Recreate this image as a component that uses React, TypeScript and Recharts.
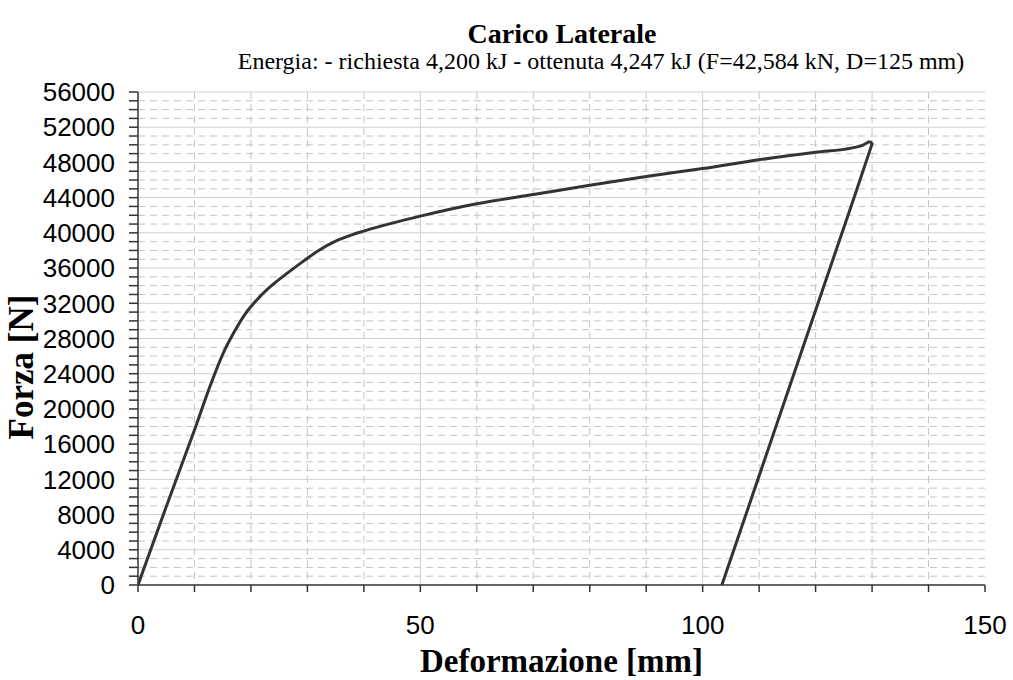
import React from 'react'
import {
  LineChart,
  Line,
  XAxis,
  YAxis,
  CartesianGrid,
} from 'recharts'

// deformazione [mm] / forza [N] - fase di carico
const loadX = [0, 5, 10, 13, 15, 17, 19, 21.5, 24, 26.5, 29, 32, 35, 38, 40, 45, 50, 60, 70, 80, 90, 100, 110, 120, 126.5, 128.3, 129.6]
const loadY = [0, 8900, 17600, 23000, 26200, 28700, 30800, 32700, 34200, 35450, 36650, 38000, 39050, 39800, 40200, 41100, 41900, 43300, 44350, 45400, 46400, 47300, 48300, 49150, 49650, 49950, 50400]

// scarico
const unloadX = [129.6, 130.0, 126.7, 103.4]
const unloadY = [50400, 50100, 43800, 0]

const xTicks = [0, 10, 20, 30, 40, 50, 60, 70, 80, 90, 100, 110, 120, 130, 140, 150]
const xLabels = [0, 50, 100, 150]
const xMajor = [50, 100]
const xMinor = [10, 20, 30, 40, 60, 70, 80, 90, 110, 120, 130, 140]

const yTicks: number[] = []
for (let v = 0; v <= 56000; v += 1000) yTicks.push(v)
const yMajor = yTicks.filter((v) => v % 4000 === 0 && v > 0)
const yMinor = yTicks.filter((v) => v % 4000 !== 0)

const title = 'Carico Laterale'
const subtitle = 'Energia: - richiesta 4,200 kJ - ottenuta 4,247 kJ (F=42,584 kN, D=125 mm)'
const xTitle = 'Deformazione [mm]'
const yTitle = 'Forza [N]'

const loadData = loadX.map((x, i) => ({ x, y: loadY[i] }))
const unloadData = unloadX.map((x, i) => ({ x, y: unloadY[i] }))

const serif = '"Liberation Serif", "Times New Roman", serif'
const sans = '"Liberation Sans", Arial, sans-serif'
const tickStyle = { fontSize: 26, fontFamily: sans, fill: '#000' }

const App = () => {
  return (
    <div style={{ position: 'absolute', left: 0, top: 0, width: 1013, height: 680, background: '#fff' }}>
      <LineChart
        width={1013}
        height={680}
        margin={{ top: 92, right: 28, bottom: 35, left: 8 }}
      >
        <CartesianGrid
          stroke="#c4c4c4"
          strokeDasharray="7 5"
          horizontalValues={yMinor}
          verticalValues={xMinor}
        />
        <CartesianGrid
          stroke="#cfcfcf"
          horizontalValues={yMajor}
          verticalValues={xMajor}
        />
        <XAxis
          type="number"
          dataKey="x"
          domain={[0, 150]}
          ticks={xTicks}
          interval={0}
          height={60}
          tickSize={7}
          tickMargin={24}
          tickFormatter={(v: number) => (xLabels.includes(v) ? String(v) : '')}
          tick={tickStyle}
          stroke="#333"
          axisLine={{ stroke: '#333', strokeWidth: 1.5 }}
          tickLine={{ stroke: '#333', strokeWidth: 1.5 }}
          allowDataOverflow
        />
        <YAxis
          type="number"
          dataKey="y"
          domain={[0, 56000]}
          ticks={yTicks}
          interval={0}
          width={130}
          tickSize={9}
          tickMargin={14}
          tickFormatter={(v: number) => (v % 4000 === 0 ? String(v) : '')}
          tick={tickStyle}
          stroke="#333"
          axisLine={{ stroke: '#333', strokeWidth: 1.5 }}
          tickLine={{ stroke: '#333', strokeWidth: 1.5 }}
          allowDataOverflow
        />
        <Line
          data={loadData}
          type="monotone"
          dataKey="y"
          stroke="#333"
          strokeWidth={3}
          dot={false}
          isAnimationActive={false}
        />
        <Line
          data={unloadData}
          type="linear"
          dataKey="y"
          stroke="#333"
          strokeWidth={3}
          dot={false}
          isAnimationActive={false}
        />
      </LineChart>

      <div style={{ position: 'absolute', left: 562, top: 20, transform: 'translateX(-50%)', whiteSpace: 'nowrap', fontFamily: serif, fontWeight: 'bold', fontSize: 28, lineHeight: 1 }}>
        {title}
      </div>
      <div style={{ position: 'absolute', left: 601, top: 50, transform: 'translateX(-50%)', whiteSpace: 'nowrap', fontFamily: serif, fontSize: 24, lineHeight: 0.95 }}>
        {subtitle}
      </div>
      <div style={{ position: 'absolute', left: 561.5, top: 644.5, transform: 'translateX(-50%)', whiteSpace: 'nowrap', fontFamily: serif, fontWeight: 'bold', fontSize: 33, lineHeight: 1 }}>
        {xTitle}
      </div>
      <div style={{ position: 'absolute', left: 21, top: 367, transform: 'translate(-50%, -50%) rotate(-90deg)', whiteSpace: 'nowrap', fontFamily: serif, fontWeight: 'bold', fontSize: 35, lineHeight: 1 }}>
        {yTitle}
      </div>
    </div>
  )
}

export default App
